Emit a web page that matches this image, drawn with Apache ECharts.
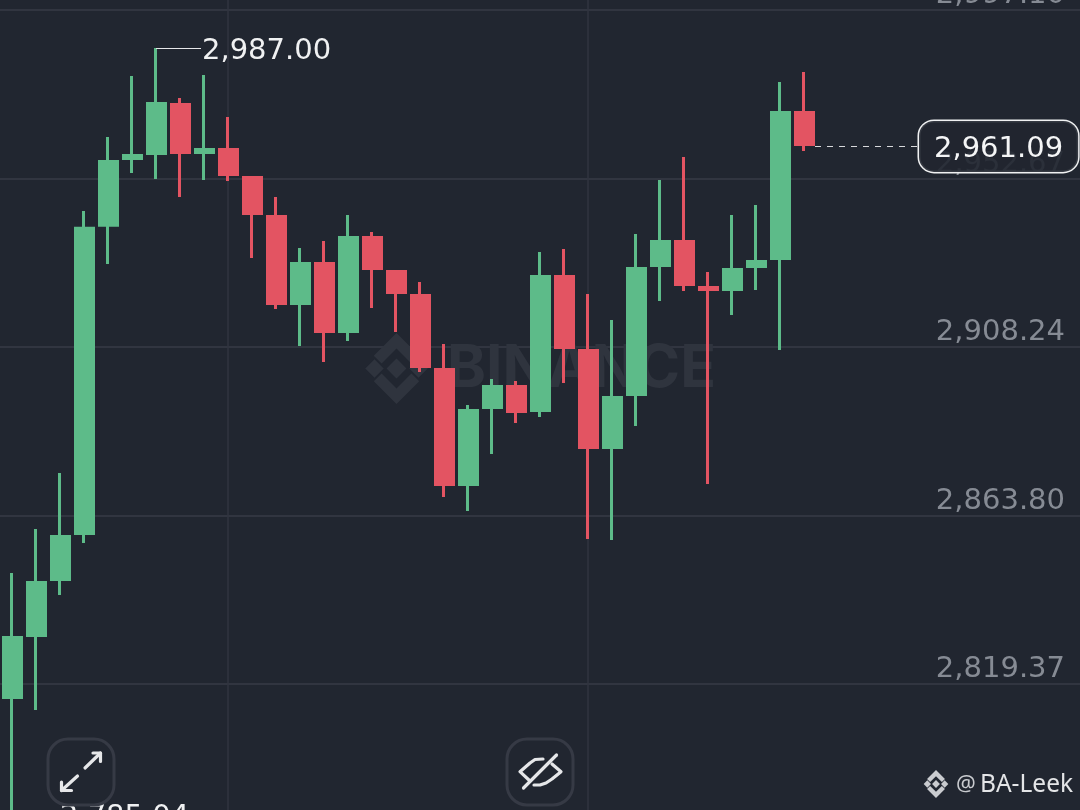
<!DOCTYPE html>
<html>
<head>
<meta charset="utf-8">
<style>html,body{margin:0;padding:0;background:#212630;overflow:hidden}#c{width:1080px;height:810px}</style>
<script src="https://cdn.jsdelivr.net/npm/echarts@6/dist/echarts.min.js"></script>
</head>
<body>
<div id="c"></div>
<script>
const categories = ['1','2','3','4','5','6','7','8','9','10','11','12','13','14','15','16','17','18','19','20','21','22','23','24','25','26','27','28','29','30','31','32','33','34','35','36','37','38','39','40','41','42','43','44','45'];
const opens = [2815.77,2832.11,2846.88,2859.01,2940.31,2957.90,2959.21,2972.13,2959.48,2960.27,2952.88,2942.60,2919.66,2930.21,2912.28,2937.06,2928.10,2921.77,2902.26,2871.93,2892.24,2897.77,2891.45,2926.78,2907.27,2881.69,2895.66,2929.68,2936.01,2923.88,2923.35,2929.42,2931.53,2970.02];
const closes = [2831.59,2846.09,2858.22,2939.52,2957.10,2958.69,2972.40,2959.48,2960.27,2953.68,2943.39,2919.66,2930.21,2912.28,2937.06,2928.89,2922.56,2903.05,2871.93,2891.45,2897.77,2891.18,2926.78,2908.06,2881.69,2894.87,2928.89,2936.01,2924.67,2923.35,2928.63,2930.74,2970.02,2961.59];
const lows = [2785.04,2812.47,2842.79,2856.51,2930.08,2954.07,2952.49,2947.74,2952.23,2951.96,2931.66,2918.21,2908.45,2904.23,2909.77,2918.47,2912.14,2901.60,2868.64,2864.94,2879.97,2888.15,2889.73,2898.70,2857.56,2857.30,2887.36,2920.32,2922.96,2872.06,2916.63,2923.22,2907.40,2959.87];
const highs = [2848.60,2860.20,2874.96,2944.05,2963.56,2979.65,2987.00,2973.85,2979.91,2968.84,2953.28,2947.74,2934.29,2936.14,2943.00,2938.51,2928.49,2925.33,2908.98,2892.90,2899.75,2899.22,2933.24,2934.03,2922.17,2915.31,2937.99,2952.23,2958.29,2927.97,2943.00,2945.63,2978.07,2980.70];
const priceTicks = [2819.37,2863.80,2908.24,2952.67,2997.10];
const priceTickLabels = ['2,819.37','2,863.80','2,908.24','2,952.67','2,997.10'];
const verticalGridIndexes = [9,24];
const highIndex = 6, highPrice = 2987.00, highText = '2,987.00';
const lowIndex = 0, lowPrice = 2785.04, lowText = '2,785.04';
const lastPrice = 2961.09, lastText = '2,961.09';

const FONT = '"DejaVu Sans"';
const GREEN = '#5dbb89', RED = '#e35462', BG = '#212630';
const LOGO_SHAPES = [
  [[50,36],[64,50],[50,64],[36,50]],
  [[19,37],[32,50],[19,63],[6,50]],
  [[81,37],[94,50],[81,63],[68,50]],
  [[50,0],[82,32],[71,43],[50,22],[29,43],[18,32]],
  [[50,100],[18,68],[29,57],[50,78],[71,57],[82,68]]
];
function logo(x,y,size,fill,z){
  return {type:'group',x:x,y:y,scaleX:size/100,scaleY:size/100,
    children:LOGO_SHAPES.map(p=>({type:'polygon',z:z,shape:{points:p},style:{fill:fill}}))};
}
const btnStyle = {stroke:'#363a45',lineWidth:3,fill:'none'};
const iconStyle = {stroke:'#e6e7e9',lineWidth:3.2,fill:'none',lineCap:'round',lineJoin:'round'};

const chart = echarts.init(document.getElementById('c'), null, {renderer:'canvas', width:1080, height:810});
chart.setOption({
  animation:false,
  backgroundColor:BG,
  grid:{left:0,right:0,top:0,bottom:-40,containLabel:false,outerBoundsMode:'none'},
  xAxis:{type:'category',data:categories,
    axisLine:{show:false},axisTick:{show:false},axisLabel:{show:false},
    splitLine:{show:true,alignWithLabel:true,interval:(i)=>verticalGridIndexes.includes(i),lineStyle:{color:'#31353f',width:1.5}}},
  yAxis:{type:'value',position:'right',min:2775.55,max:2999.69,
    axisLine:{show:false},
    axisTick:{show:false,customValues:priceTicks},
    axisLabel:{inside:true,customValues:priceTicks,margin:15,color:'#868b94',fontFamily:FONT,fontSize:29,verticalAlign:'bottom',lineHeight:28,
      formatter:(v)=>priceTickLabels[priceTicks.indexOf(v)]},
    splitLine:{show:true,lineStyle:{color:'#373b46',width:1.5}}},
  series:[{
    type:'candlestick',
    barWidth:18.5,
    z:3,
    data:opens.map((o,i)=>[o,closes[i],lows[i],highs[i]]),
    itemStyle:{color:GREEN,color0:RED,borderColor:GREEN,borderColor0:RED,borderWidth:3},
    markLine:{
      silent:true,symbol:'none',animation:false,
      data:[
        [{coord:[highIndex,highPrice],lineStyle:{color:'#e6e7e9',width:1.2,type:'solid'},
          label:{show:true,position:'end',distance:1,offset:[0,3],formatter:highText,color:'#f0f1f2',fontFamily:FONT,fontSize:29}},
         {x:201,yAxis:highPrice}],
        [{coord:[lowIndex,lowPrice],lineStyle:{color:'#e6e7e9',width:1.2,type:'solid'},
          label:{show:true,position:'end',distance:1,offset:[0,3],formatter:lowText,color:'#f0f1f2',fontFamily:FONT,fontSize:29}},
         {x:59,yAxis:lowPrice}],
        [{x:815,yAxis:lastPrice,lineStyle:{color:'#d8d9dc',width:1.2,type:[6,6]},
          label:{show:true,position:'end',distance:1,formatter:'{t|'+lastText+'}',
            rich:{t:{color:'#f4f5f6',fontFamily:FONT,fontSize:29,padding:[7,0,0,0]}},
            backgroundColor:'rgba(33,38,48,0.9)',borderColor:'#f0f1f2',borderWidth:1.5,borderRadius:15,padding:[7,15,8,15]}},
         {x:918,yAxis:lastPrice}]
      ]
    }
  }],
  graphic:[
    logo(361,333,71,'#2f343e',1),
    {type:'text',z:1,x:447,y:369,style:{text:'BINANCE',font:'bold 59px Inter',fill:'#2f343e',textVerticalAlign:'middle'}},
    {type:'rect',z:50,shape:{x:48,y:739,width:66,height:66,r:20},style:btnStyle},
    {type:'polyline',z:51,shape:{points:[[85,768],[100.5,753]]},style:iconStyle},
    {type:'polyline',z:51,shape:{points:[[93,753],[100.5,753],[100.5,761.5]]},style:iconStyle},
    {type:'polyline',z:51,shape:{points:[[77.5,776],[61.5,790.5]]},style:iconStyle},
    {type:'polyline',z:51,shape:{points:[[61.5,782],[61.5,790.5],[71.5,790.5]]},style:iconStyle},
    {type:'rect',z:50,shape:{x:507,y:739,width:66,height:66,r:20},style:btnStyle},
    {type:'polyline',z:51,shape:{points:[[543,759],[535,759.5],[530,763],[520,771.7],[530,781]]},style:iconStyle},
    {type:'polyline',z:51,shape:{points:[[552,764],[561,771.7],[552,779],[546,783],[540,785],[534,785]]},style:iconStyle},
    {type:'polyline',z:51,shape:{points:[[523.5,788],[556.5,755]]},style:iconStyle},
    logo(922,770,28,'#c9cbcf',60),
    {type:'text',z:60,x:956,y:785,style:{text:'@',font:'22px "Noto Sans"',fill:'#c9cbcf',textVerticalAlign:'middle'}},
    {type:'text',z:60,x:980,y:785,style:{text:'BA-Leek',font:'24.5px "Noto Sans"',fill:'#e4e5e7',textVerticalAlign:'middle'}}
  ]
});
</script>
</body>
</html>
